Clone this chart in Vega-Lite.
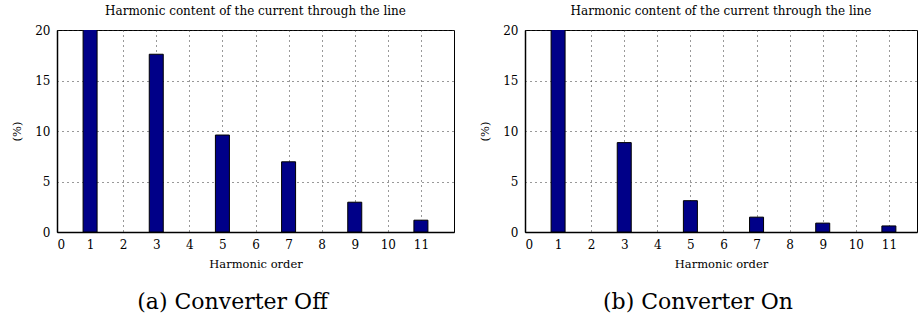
{
  "$schema": "https://vega.github.io/schema/vega-lite/v6.json",
  "padding": {"left": 10, "top": 4, "right": 0, "bottom": 0},
  "background": "white",
  "datasets": {
    "off": [
      {"h": 1, "v": 100}, {"h": 3, "v": 17.6}, {"h": 5, "v": 9.6},
      {"h": 7, "v": 6.95}, {"h": 9, "v": 2.95}, {"h": 11, "v": 1.17}
    ],
    "on": [
      {"h": 1, "v": 100}, {"h": 3, "v": 8.85}, {"h": 5, "v": 3.1},
      {"h": 7, "v": 1.47}, {"h": 9, "v": 0.88}, {"h": 11, "v": 0.6}
    ]
  },
  "config": {
    "view": {"stroke": "black", "strokeWidth": 1},
    "axis": {
      "labelFont": "DejaVu Serif", "titleFont": "DejaVu Serif",
      "labelFontSize": 12, "labelColor": "black",
      "titleFontSize": 11.5, "titleFontWeight": "normal", "titleColor": "black",
      "domainColor": "black", "domainWidth": 1.5,
      "grid": true, "gridDash": [1, 4], "gridColor": "#333", "gridWidth": 1,
      "ticks": false
    },
    "axisX": {"labelPadding": 7, "titlePadding": 8},
    "axisY": {"labelPadding": 7, "minExtent": 28, "maxExtent": 28, "titlePadding": 7},
    "title": {"fontWeight": "normal", "color": "black", "font": "DejaVu Serif"},
    "concat": {"spacing": 23}
  },
  "hconcat": [
    {
      "title": {"text": "(a) Converter Off", "orient": "bottom", "fontSize": 22, "offset": 22, "anchor": "middle"},
      "vconcat": [
        {
          "width": 397, "height": 202,
          "title": {"text": "Harmonic content of the current through the line", "fontSize": 12, "offset": 6},
          "data": {"name": "off"},
          "mark": {"type": "bar", "width": 14, "fill": "#000088", "stroke": "black", "strokeWidth": 1, "clip": true},
          "encoding": {
            "x": {"field": "h", "type": "quantitative", "scale": {"domain": [0, 12], "nice": false, "padding": 0},
                  "axis": {"values": [0,1,2,3,4,5,6,7,8,9,10,11], "title": "Harmonic order"}},
            "y": {"field": "v", "type": "quantitative", "scale": {"domain": [0, 20], "nice": false, "padding": 0},
                  "axis": {"values": [0, 5, 10, 15, 20], "title": "(%)"}}
          }
        }
      ]
    },
    {
      "title": {"text": "(b) Converter On", "orient": "bottom", "fontSize": 22, "offset": 22, "anchor": "middle"},
      "vconcat": [
        {
          "width": 392, "height": 202,
          "title": {"text": "Harmonic content of the current through the line", "fontSize": 12, "offset": 6},
          "data": {"name": "on"},
          "mark": {"type": "bar", "width": 14, "fill": "#000088", "stroke": "black", "strokeWidth": 1, "clip": true},
          "encoding": {
            "x": {"field": "h", "type": "quantitative", "scale": {"domain": [0, 11.85], "nice": false, "padding": 0},
                  "axis": {"values": [0,1,2,3,4,5,6,7,8,9,10,11], "title": "Harmonic order"}},
            "y": {"field": "v", "type": "quantitative", "scale": {"domain": [0, 20], "nice": false, "padding": 0},
                  "axis": {"values": [0, 5, 10, 15, 20], "title": "(%)"}}
          }
        }
      ]
    }
  ]
}
